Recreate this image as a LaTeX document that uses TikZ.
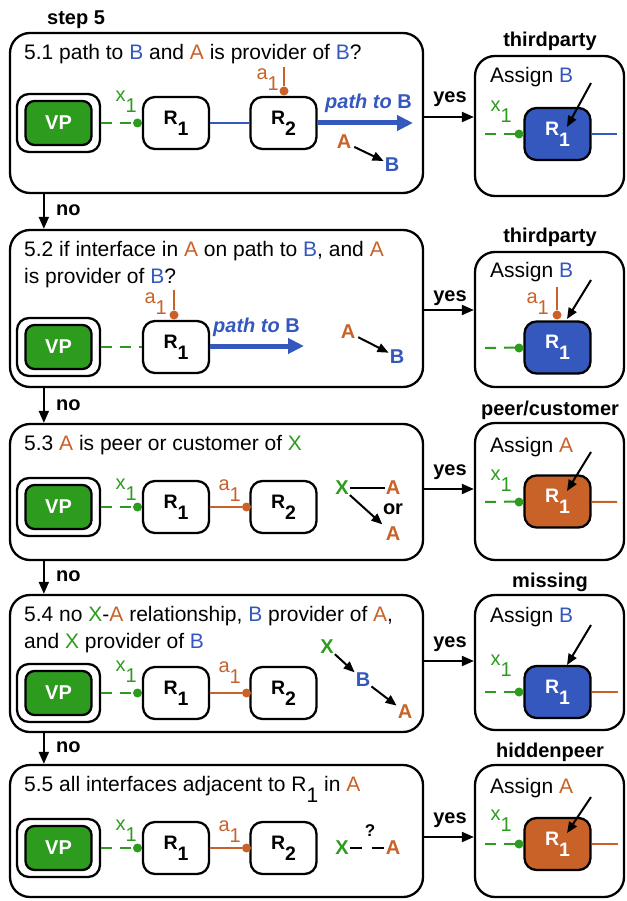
\documentclass[tikz,border=0pt]{standalone}
\usepackage{fontspec}
\setmainfont{Liberation Sans}
\usetikzlibrary{arrows.meta}
\definecolor{cgreen}{RGB}{44,155,30}
\definecolor{cblue}{RGB}{52,88,190}
\definecolor{corange}{RGB}{200,98,40}
\newcommand{\lo}[1]{\raisebox{-0.55em}{#1}}
\newcommand{\cA}{\textcolor{corange}{A}}
\newcommand{\cB}{\textcolor{cblue}{B}}
\newcommand{\cX}{\textcolor{cgreen}{X}}
\newcommand{\tfont}{\fontsize{21}{25}\selectfont}
\newcommand{\bfont}{\fontsize{20}{24}\selectfont\bfseries}
\newcommand{\rfont}{\fontsize{19.5}{22}\selectfont\bfseries}
\newcommand{\xfont}{\fontsize{20}{22}\selectfont}
\tikzset{
  bigbox/.style={draw, line width=2.3pt, rounded corners=20pt, inner sep=0},
  vpout/.style={draw, line width=2.3pt, rounded corners=12pt, minimum width=83pt, minimum height=58pt, inner sep=0},
  vpin/.style={draw, line width=2.3pt, fill=cgreen, rounded corners=9pt, minimum width=66pt, minimum height=44pt, text=white, font=\bfont, inner sep=0},
  rbox/.style={draw, line width=2.3pt, rounded corners=12pt, minimum width=66pt, minimum height=52pt, fill=white, font=\rfont, inner sep=0},
  rfill/.style={rbox, text=white},
  gdot/.style={circle, fill=cgreen, inner sep=0, minimum size=9pt},
  odot/.style={circle, fill=corange, inner sep=0, minimum size=9pt},
  txt/.style={inner sep=0, anchor=base west, font=\tfont},
  blbl/.style={inner sep=1pt, font=\bfont},
  xlbl/.style={inner sep=0, anchor=base east, font=\xfont},
  arr/.style={line width=2pt, -{Triangle[length=12pt,width=10pt]}},
  sarr/.style={line width=2pt, -{Triangle[length=11pt,width=9pt]}},
  gdash/.style={cgreen, line width=2pt, dash pattern=on 11pt off 8pt},
  oline/.style={corange, line width=2pt},
  bline/.style={cblue, line width=2pt},
  patharr/.style={cblue, line width=5pt, -{Triangle[length=16pt,width=15pt]}},
}
\newcommand{\chain}[2]{%
  \node[vpout] (vo#1) at (58.5,#2) {};
  \node[vpin] (vp#1) at (58.5,#2) {VP};
  \node[rbox] (ra#1) at (176,#2) {R\lo{1}};
}
\begin{document}
\begin{tikzpicture}[x=1pt,y=-1pt]
\useasboundingbox (0,0) rectangle (626,901);

\node[blbl, inner sep=0, anchor=base west] (title) at (47,25) {step 5};

% ---------- left boxes
\node[bigbox, minimum width=413pt, minimum height=160pt] (L1) at (216.5,113) {};
\node[bigbox, minimum width=413pt, minimum height=157pt] (L2) at (216.5,308.5) {};
\node[bigbox, minimum width=413pt, minimum height=136pt] (L3) at (216.5,492) {};
\node[bigbox, minimum width=413pt, minimum height=137pt] (L4) at (216.5,663.5) {};
\node[bigbox, minimum width=413pt, minimum height=132pt] (L5) at (216.5,831) {};

% ---------- right boxes
\node[bigbox, minimum width=149pt, minimum height=140pt] (P1) at (549.5,126) {};
\node[bigbox, minimum width=149pt, minimum height=135pt] (P2) at (549.5,319.5) {};
\node[bigbox, minimum width=149pt, minimum height=137pt] (P3) at (549.5,491.5) {};
\node[bigbox, minimum width=149pt, minimum height=135pt] (P4) at (549.5,662.5) {};
\node[bigbox, minimum width=149pt, minimum height=132pt] (P5) at (549.5,831) {};

% ---------- no arrows
\draw[arr] ([xshift=35pt]L1.south west) -- ([xshift=35pt]L2.north west);
\draw[arr] ([xshift=35pt]L2.south west) -- ([xshift=35pt]L3.north west);
\draw[arr] ([xshift=35pt]L3.south west) -- ([xshift=35pt]L4.north west);
\draw[arr] ([xshift=35pt]L4.south west) -- ([xshift=35pt]L5.north west);
\node[blbl, inner sep=0, anchor=base west] (no1) at (56,215) {no};
\node[blbl, inner sep=0, anchor=base west] (no2) at (56,410) {no};
\node[blbl, inner sep=0, anchor=base west] (no3) at (56,581) {no};
\node[blbl, inner sep=0, anchor=base west] (no4) at (56,752) {no};

% ---------- yes arrows
\coordinate (y1) at (449,117);
\coordinate (y2) at (449,310);
\coordinate (y3) at (449,489);
\coordinate (y4) at (449,661);
\coordinate (y5) at (449,837);
\draw[arr] (L1.east |- y1) -- (P1.west |- y1);
\draw[arr] (L2.east |- y2) -- (P2.west |- y2);
\draw[arr] (L3.east |- y3) -- (P3.west |- y3);
\draw[arr] (L4.east |- y4) -- (P4.west |- y4);
\draw[arr] (L5.east |- y5) -- (P5.west |- y5);
\node[blbl, inner sep=0, anchor=base] (yes1) at (450,103) {yes};
\node[blbl, inner sep=0, anchor=base] (yes2) at (450,301) {yes};
\node[blbl, inner sep=0, anchor=base] (yes3) at (450,475) {yes};
\node[blbl, inner sep=0, anchor=base] (yes4) at (450,647) {yes};
\node[blbl, inner sep=0, anchor=base] (yes5) at (450,823) {yes};

% ---------- left texts
\node[txt] (t1) at (24,60) {5.1 path to \cB{} and \cA{} is provider of \cB?};
\node[txt] (t2a) at (24,256) {5.2 if interface in \cA{} on path to \cB, and \cA};
\node[txt] (t2b) at (24,283) {is provider of \cB?};
\node[txt] (t3) at (24,450) {5.3 \cA{} is peer or customer of \cX};
\node[txt] (t4a) at (24,621) {5.4 no \cX-\cA{} relationship, \cB{} provider of \cA,};
\node[txt] (t4b) at (24,648) {and \cX{} provider of \cB};
\node[txt] (t5) at (24,791) {5.5 all interfaces adjacent to R\lo{1} in \cA};

% ---------- row 1
\chain{1}{123}
\node[rbox] (rb1) at (283.5,123) {R\lo{2}};
\draw[gdash] (vo1.east) -- (ra1.west);
\node[gdot] (xd1) at (137.5,123) {};
\node[xlbl, text=cgreen] (xl1) at (137,102) {x\lo{1}};
\draw[bline] (ra1) -- (rb1);
\coordinate (at1) at (284,67);
\node[odot] (ad1) at (284,91) {};
\draw[oline] (at1) -- (ad1);
\node[xlbl, text=corange] (al1) at (279,80) {a\lo{1}};
\coordinate (pe1) at (413,123);
\draw[patharr] (rb1) -- (pe1);
\node[inner sep=0, anchor=base west, text=cblue, font=\bfont] (pl1) at (325,109) {\itshape path to \upshape B};
\node[blbl, text=corange] (ra1A) at (344,142) {A};
\node[blbl, text=cblue] (ra1B) at (392,165) {B};
\draw[sarr, shorten <=2pt] (ra1A) -- (ra1B);

% ---------- row 2
\chain{2}{347}
\draw[gdash] (vo2.east) -- (ra2.west);
\coordinate (at2) at (174,290);
\node[odot] (ad2) at (174,315) {};
\draw[oline] (at2) -- (ad2);
\node[xlbl, text=corange] (al2) at (167,303) {a\lo{1}};
\coordinate (pe2) at (304,346);
\draw[patharr] (ra2.east |- pe2) -- (pe2);
\node[inner sep=0, anchor=base west, text=cblue, font=\bfont] (pl2) at (213,332) {\itshape path to \upshape B};
\node[blbl, text=corange] (r2A) at (348,332) {A};
\node[blbl, text=cblue] (r2B) at (397,357) {B};
\draw[sarr, shorten <=2pt] (r2A) -- (r2B);

% ---------- row 3
\chain{3}{507}
\node[rbox] (rb3) at (283.5,507) {R\lo{2}};
\draw[gdash] (vo3.east) -- (ra3.west);
\node[gdot] (xd3) at (137.5,507) {};
\node[xlbl, text=cgreen] (xl3) at (137,489) {x\lo{1}};
\node[odot] (ad3) at (246.5,507) {};
\draw[oline] (ra3) -- (ad3);
\node[xlbl, text=corange] (al3) at (241,490) {a\lo{1}};
\node[blbl, text=cgreen] (r3X) at (342,488) {X};
\node[blbl, text=corange] (r3A) at (393,488) {A};
\node[blbl] (r3or) at (393,509) {or};
\node[blbl, text=corange] (r3A2) at (393,534) {A};
\draw[line width=2pt] (r3X.east) -- (r3A.west);
\draw[sarr, shorten >=3pt] (r3X) -- (r3A2);

% ---------- row 4
\chain{4}{693}
\node[rbox] (rb4) at (283.5,693) {R\lo{2}};
\draw[gdash] (vo4.east) -- (ra4.west);
\node[gdot] (xd4) at (137.5,693) {};
\node[xlbl, text=cgreen] (xl4) at (137,671) {x\lo{1}};
\node[odot] (ad4) at (246.5,693) {};
\draw[oline] (ra4) -- (ad4);
\node[xlbl, text=corange] (al4) at (241,672) {a\lo{1}};
\node[blbl, text=cgreen] (r4X) at (327,647) {X};
\node[blbl, text=cblue] (r4B) at (363,680) {B};
\node[blbl, text=corange] (r4A) at (405,712) {A};
\draw[sarr] (r4X) -- (r4B);
\draw[sarr] (r4B) -- (r4A);

% ---------- row 5
\chain{5}{848}
\node[rbox] (rb5) at (283.5,848) {R\lo{2}};
\draw[gdash] (vo5.east) -- (ra5.west);
\node[gdot] (xd5) at (137.5,848) {};
\node[xlbl, text=cgreen] (xl5) at (137,830) {x\lo{1}};
\node[odot] (ad5) at (246.5,848) {};
\draw[oline] (ra5) -- (ad5);
\node[xlbl, text=corange] (al5) at (241,831) {a\lo{1}};
\node[blbl, text=cgreen] (r5X) at (342,848) {X};
\node[blbl, text=corange] (r5A) at (393,848) {A};
\draw[line width=2pt, dash pattern=on 12pt off 10pt] (r5X.east) -- (r5A.west);
\node[inner sep=0, font=\fontsize{17}{18}\selectfont\bfseries] (r5q) at (370,831) {?};

% ---------- right box contents
% row 1
\node[blbl, inner sep=0, anchor=base] (h1) at (550,47) {thirdparty};
\node[txt] (as1) at (490,83) {Assign \cB};
\node[rfill, fill=cblue] (rr1) at (557.5,134) {R\lo{1}};
\coordinate (ds1) at (485,134);
\draw[gdash] (ds1) -- (rr1.west);
\node[gdot] (xr1) at (519,134) {};
\node[xlbl, text=cgreen] (xrl1) at (512,112) {x\lo{1}};
\coordinate (re1) at (617,134);
\draw[bline] (rr1) -- (re1);
\coordinate (ca1) at (591,83);
\coordinate (ce1) at (567,127);
\draw[sarr] (ca1) -- (ce1);

% row 2
\node[blbl, inner sep=0, anchor=base] (h2) at (550,243) {thirdparty};
\node[txt] (as2) at (490,277) {Assign \cB};
\node[rfill, fill=cblue] (rr2) at (557.5,347.5) {R\lo{1}};
\coordinate (ds2) at (485,348);
\draw[gdash] (ds2) -- (rr2.west);
\node[gdot] (xr2) at (519,348) {};
\coordinate (at2r) at (557,287);
\node[odot] (ad2r) at (557,315) {};
\draw[oline] (at2r) -- (ad2r);
\node[xlbl, text=corange] (al2r) at (549,303) {a\lo{1}};
\coordinate (ca2) at (591,280);
\coordinate (ce2) at (567,319);
\draw[sarr] (ca2) -- (ce2);

% row 3
\node[blbl, inner sep=0, anchor=base] (h3) at (550,415) {peer/customer};
\node[txt] (as3) at (490,452) {Assign \cA};
\node[rfill, fill=corange] (rr3) at (557.5,501.5) {R\lo{1}};
\coordinate (ds3) at (485,502);
\draw[gdash] (ds3) -- (rr3.west);
\node[gdot] (xr3) at (519,502) {};
\node[xlbl, text=cgreen] (xrl3) at (512,480) {x\lo{1}};
\coordinate (re3) at (617,502);
\draw[oline] (rr3) -- (re3);
\coordinate (ca3) at (591,452);
\coordinate (ce3) at (567,491);
\draw[sarr] (ca3) -- (ce3);

% row 4
\node[blbl, inner sep=0, anchor=base] (h4) at (550,587) {missing};
\node[txt] (as4) at (490,622) {Assign \cB};
\node[rfill, fill=cblue] (rr4) at (557.5,692) {R\lo{1}};
\coordinate (ds4) at (485,692);
\draw[gdash] (ds4) -- (rr4.west);
\node[gdot] (xr4) at (519,692) {};
\node[xlbl, text=cgreen] (xrl4) at (512,665) {x\lo{1}};
\coordinate (re4) at (618,692);
\draw[oline] (rr4) -- (re4);
\coordinate (ca4) at (591,625);
\coordinate (ce4) at (567,665);
\draw[sarr] (ca4) -- (ce4);

% row 5
\node[blbl, inner sep=0, anchor=base] (h5) at (550,757) {hiddenpeer};
\node[txt] (as5) at (490,793) {Assign \cA};
\node[rfill, fill=corange] (rr5) at (557.5,844) {R\lo{1}};
\coordinate (ds5) at (485,844);
\draw[gdash] (ds5) -- (rr5.west);
\node[gdot] (xr5) at (519,844) {};
\node[xlbl, text=cgreen] (xrl5) at (512,820) {x\lo{1}};
\coordinate (re5) at (618,844);
\draw[oline] (rr5) -- (re5);
\coordinate (ca5) at (591,797);
\coordinate (ce5) at (567,833);
\draw[sarr] (ca5) -- (ce5);
\end{tikzpicture}
\end{document}
